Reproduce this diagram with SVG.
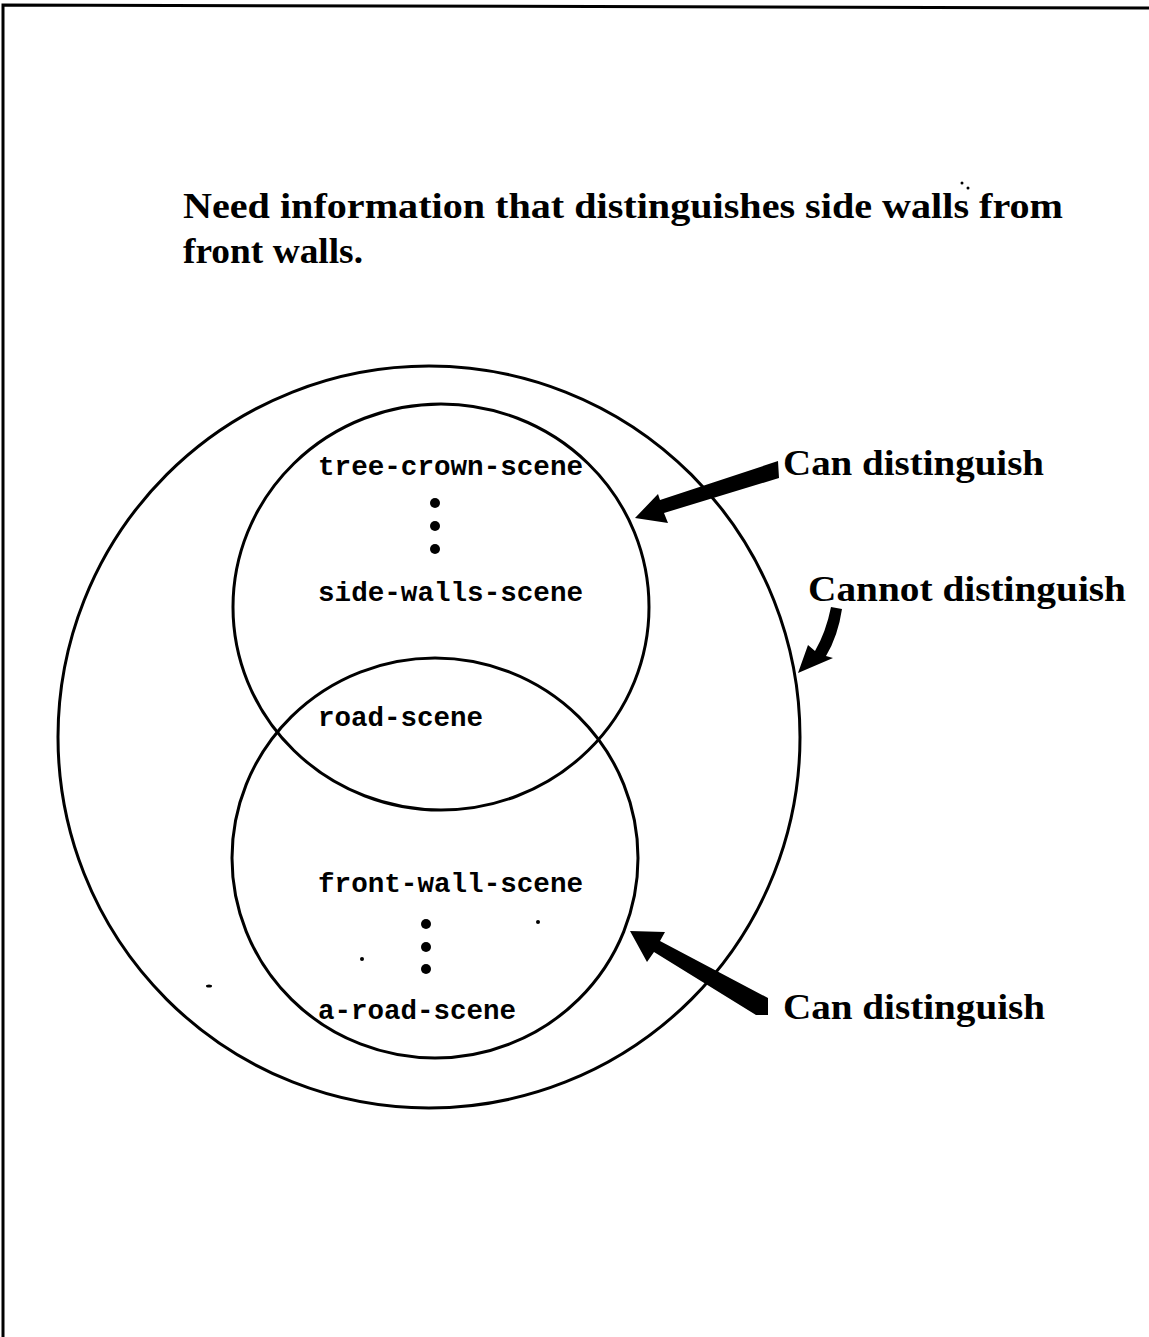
<svg xmlns="http://www.w3.org/2000/svg" width="1149" height="1337" viewBox="0 0 1149 1337">
<style>
.ser{font-family:"Liberation Serif","DejaVu Serif",serif;font-weight:bold;font-size:36px;fill:#000}
.mono{font-family:"Liberation Mono","DejaVu Sans Mono",monospace;font-weight:bold;font-size:28px;fill:#000}
.ring{fill:none;stroke:#000;stroke-width:3}
</style>
<rect width="1149" height="1337" fill="#fff"/>
<g id="frame" fill="none" stroke="#000" stroke-width="3">
<polyline points="3,1337 3,5 1149,8"/>
</g>
<g id="title">
<text class="ser" x="183" y="218" textLength="880" lengthAdjust="spacingAndGlyphs">Need information that distinguishes side walls from</text>
<text class="ser" x="183" y="263" textLength="180" lengthAdjust="spacingAndGlyphs">front walls.</text>
</g>
<g id="outer-set"><ellipse class="ring" cx="429" cy="737" rx="371" ry="371"/></g>
<g id="upper-set">
<ellipse class="ring" cx="441" cy="607" rx="208" ry="203"/>
<text class="mono" x="318" y="475" textLength="265" lengthAdjust="spacingAndGlyphs">tree-crown-scene</text>
<circle cx="435" cy="503" r="5"/><circle cx="435" cy="526" r="5"/><circle cx="435" cy="549" r="5"/>
<text class="mono" x="318" y="601" textLength="265" lengthAdjust="spacingAndGlyphs">side-walls-scene</text>
</g>
<g id="lower-set">
<ellipse class="ring" cx="435" cy="858" rx="203" ry="200"/>
<text class="mono" x="318" y="892" textLength="265" lengthAdjust="spacingAndGlyphs">front-wall-scene</text>
<circle cx="426" cy="924" r="5"/><circle cx="426" cy="947" r="5"/><circle cx="426" cy="969" r="5"/>
<text class="mono" x="318" y="1019" textLength="198" lengthAdjust="spacingAndGlyphs">a-road-scene</text>
</g>
<g id="intersection">
<text class="mono" x="318" y="726" textLength="165" lengthAdjust="spacingAndGlyphs">road-scene</text>
</g>
<g id="labels">
<text class="ser" x="783" y="475" textLength="261" lengthAdjust="spacingAndGlyphs">Can distinguish</text>
<text class="ser" x="808" y="601" textLength="318" lengthAdjust="spacingAndGlyphs">Cannot distinguish</text>
<text class="ser" x="783" y="1019" textLength="262" lengthAdjust="spacingAndGlyphs">Can distinguish</text>
</g>
<g id="connectors" fill="#000" stroke="none">
<polygon points="778,461 779,478 664,513 668,523 635,518 658,494 660,500"/>
<polygon points="768,998 768,1015 756,1015 654,952 647,962 630,931 665,932 660,941"/>
<path d="M831,607 L842,609 Q838,636 826,656 L833,658 L798,673 L808,645 L815,651 Q826,632 831,607 Z"/>
</g>
<g id="specks" fill="#000">
<circle cx="538" cy="922" r="2"/><circle cx="362" cy="959" r="2"/>
<ellipse cx="209" cy="986" rx="3" ry="1.5"/>
<circle cx="962" cy="183" r="1.5"/><circle cx="968" cy="188" r="1.5"/>
</g>
</svg>
